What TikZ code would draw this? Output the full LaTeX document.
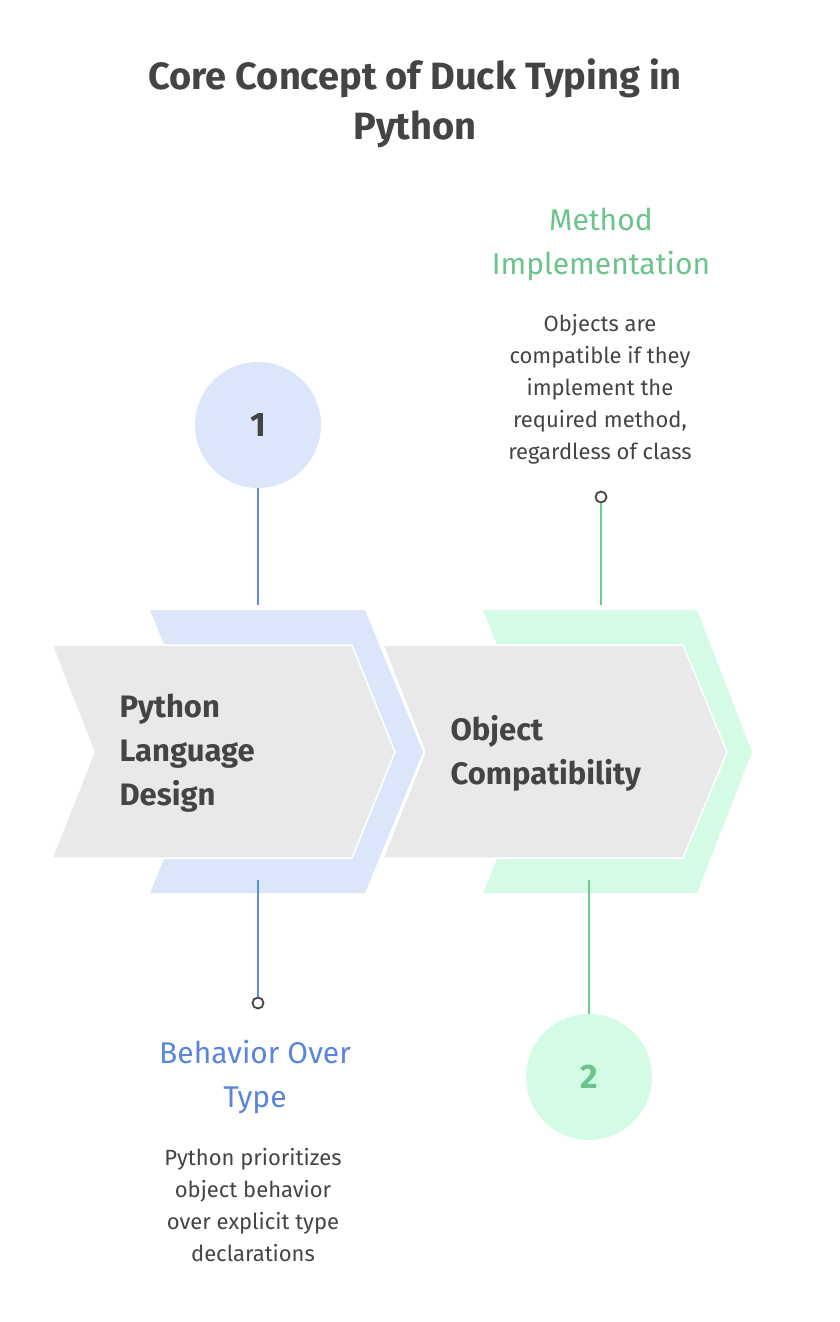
\documentclass[tikz,border=0pt]{standalone}
\usepackage{fontspec}
\setmainfont{Fira Sans}
\usetikzlibrary{positioning}
\definecolor{ink}{HTML}{444444}
\definecolor{bluefill}{HTML}{DCE6FB}
\definecolor{blueline}{HTML}{5B8DEF}
\definecolor{bluetext}{HTML}{5A85DD}
\definecolor{greenfill}{HTML}{D3FBE6}
\definecolor{greenline}{HTML}{6CCB8E}
\definecolor{greentext}{HTML}{6CC38B}
\definecolor{greybox}{HTML}{E9E9E9}
\tikzset{
  arrowbox/.style={fill=greybox, draw=white, line width=1.5pt},
  stem/.style={line width=2.4pt},
  knob/.style={circle, draw=ink, fill=white, line width=1.8pt, inner sep=0pt, minimum size=11pt},
  bignum/.style={circle, minimum size=126pt, inner sep=0pt, font=\fontsize{34}{34}\selectfont\bfseries},
  head/.style={font=\fontsize{30}{44}\selectfont, align=center},
  body/.style={font=\fontsize{22}{32}\selectfont, text=ink, align=center},
  stage/.style={font=\fontsize{31}{44}\selectfont\bfseries, text=ink, align=left, anchor=west}
}
\begin{document}
\begin{tikzpicture}[x=1pt, y=-1pt]
    \useasboundingbox (0,0) rectangle (840,1322);
		
		\node [font=\fontsize{38}{50}\selectfont\bfseries, text=ink, align=center] (title) at (415,103) {Core Concept of Duck Typing in\\Python};
		
		% back bands
		\fill [greenfill] (483,610) -- (697,610) -- (752,752) -- (697,893) -- (483,893) -- (541,752) -- cycle;
		\draw [arrowbox] (383,645) -- (683,645) -- (727,752) -- (683,858) -- (383,858) -- (425,752) -- cycle;
		\fill [bluefill] (150,610) -- (365,610) -- (423,752) -- (365,893) -- (150,893) -- (208,752) -- cycle;
		\draw [arrowbox] (52,645) -- (352,645) -- (395,752) -- (352,858) -- (52,858) -- (94,752) -- cycle;
		
		\node [stage] (lang) at (116,753) {Python\\Language\\Design};
		\node [stage] (compat) at (447,753) {Object\\Compatibility};
		
		% step 1
		\node [bignum, fill=bluefill, text=ink] (one) at (258,425) {1};
		\coordinate (oneTop) at (258,605);
		\coordinate (oneLow) at (258,880);
		\node [knob] (dotA) at (258,1003) {};
		\draw [stem, blueline] (one) -- (oneTop);
		\draw [stem, blueline] (oneLow) -- (dotA);
		\node [head, text=bluetext] (behav) at (255,1077) {Behavior Over\\Type};
		\node [body] (behavTxt) at (253,1205) {Python prioritizes\\object behavior\\over explicit type\\declarations};
		
		% step 2
		\node [bignum, fill=greenfill, text=greentext] (two) at (589,1077) {2};
		\coordinate (twoTop) at (589,880);
		\coordinate (twoUp) at (601,605);
		\node [knob] (dotB) at (601,497) {};
		\draw [stem, greenline] (twoTop) -- (two);
		\draw [stem, greenline] (dotB) -- (twoUp);
		\node [head, text=greentext] (method) at (601,244) {Method\\Implementation};
		\node [body] (methodTxt) at (600,389) {Objects are\\compatible if they\\implement the\\required method,\\regardless of class};
		
\end{tikzpicture}
\end{document}
